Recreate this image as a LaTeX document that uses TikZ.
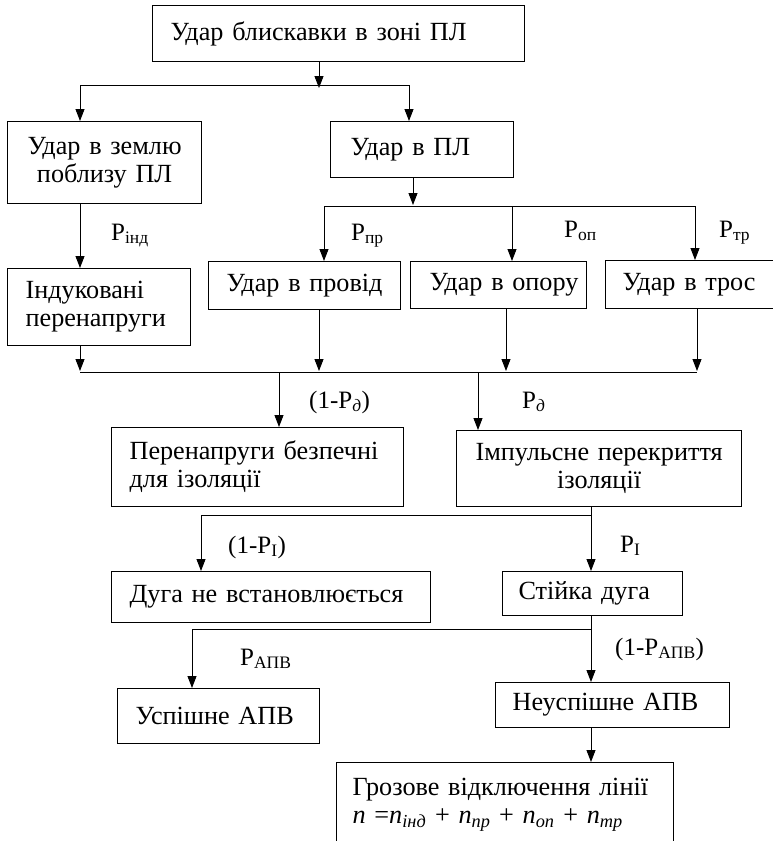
\documentclass[tikz,border=0pt]{standalone}
\usepackage{fontspec}
\setmainfont{Liberation Serif}
\usetikzlibrary{arrows.meta,calc}

\begin{document}
\begin{tikzpicture}[x=1pt,y=-1pt,
  every node/.style={font=\fontsize{25}{28}\selectfont},
  box/.style={draw, line width=1.2pt, anchor=north west, inner sep=0pt, align=left, font=\fontsize{26.2}{28}\selectfont},
  cbox/.style={draw, line width=1.2pt, anchor=north west, inner sep=0pt, align=center, font=\fontsize{26.2}{28}\selectfont},
  pad/.style={execute at begin node={\leftskip=#1}},
  arr/.style={line width=0.9pt, -{Triangle[length=12pt,width=9pt]}},
  ln/.style={line width=0.9pt},
  lbl/.style={anchor=base west, inner sep=0pt}]

\useasboundingbox (0,0) rectangle (772,841);

% boxes
\node[box, pad=18pt, minimum width=372pt, minimum height=56pt, text width=372pt] (top) at (152,5) {Удар блискавки в зоні ПЛ};
\node[cbox, minimum width=194pt, minimum height=82pt, text width=194pt] (ground) at (7,121) {Удар в землю\\поблизу ПЛ};
\node[box, pad=20pt, minimum width=183pt, minimum height=56pt, text width=183pt] (pl) at (330,121) {Удар в ПЛ};
\node[box, pad=18pt, minimum width=183pt, minimum height=77pt, text width=183pt] (ind) at (7,268) {Індуковані\\перенапруги};
\node[box, pad=18pt, minimum width=192pt, minimum height=48pt, text width=192pt] (prov) at (208,261) {Удар в провід};
\node[box, pad=19pt, minimum width=176pt, minimum height=47pt, text width=176pt] (opora) at (410,261) {Удар в опору};
\node[box, pad=17pt, minimum width=168pt, minimum height=48pt, text width=168pt] (tros) at (605,260) {Удар в трос};
\node[box, pad=18pt, minimum width=292pt, minimum height=79pt, text width=292pt] (safe) at (111,427) {Перенапруги безпечні\\для ізоляції};
\node[cbox, minimum width=285pt, minimum height=76pt, text width=285pt] (imp) at (456,430) {Імпульсне перекриття\\ізоляції};
\node[box, pad=18pt, minimum width=319pt, minimum height=51pt, text width=319pt] (arc) at (111,571) {Дуга не встановлюється};
\node[box, pad=16pt, minimum width=180pt, minimum height=44pt, text width=180pt] (stable) at (502,571) {Стійка дуга};
\node[box, pad=18pt, minimum width=202pt, minimum height=55pt, text width=202pt] (succ) at (117,688) {Успішне АПВ};
\node[box, pad=17pt, minimum width=234pt, minimum height=45pt, text width=234pt] (fail) at (495,682) {Неуспішне АПВ};
\node[box, pad=16pt, minimum width=337pt, minimum height=84pt, text width=337pt] (storm) at (336,762) {Грозове відключення лінії\\\textit{n} =\textit{n}\textsubscript{\textit{інд}} + \textit{n}\textsubscript{\textit{пр}} + \textit{n}\textsubscript{\textit{оп}} + \textit{n}\textsubscript{\textit{тр}}};

% junction coordinates
\coordinate (j0) at (319,88);
\coordinate (b1l) at (80,85);
\coordinate (b1r) at (409,85);
\coordinate (j1) at (413,205);
\coordinate (b2l) at (324,206);
\coordinate (b2m) at (512,206);
\coordinate (b2r) at (695,206);
\coordinate (c1) at (80,0);
\coordinate (b3a) at (80,372);
\coordinate (b3b) at (319,372);
\coordinate (b3c) at (506,372);
\coordinate (b3d) at (697,372);
\coordinate (d1) at (279,372);
\coordinate (d2) at (478,372);
\coordinate (b4r) at (591,515);
\coordinate (b4l) at (201,515);
\coordinate (b5r) at (591,629);
\coordinate (b5l) at (192,629);

% connectors
\draw[arr] (top.south -| j0) -- (j0);
\draw[ln] (b1l) -- (b1r);
\draw[arr] (b1l) -- (b1l |- ground.north);
\draw[arr] (b1r) -- (b1r |- pl.north);

\draw[arr] (pl.south -| j1) -- (j1);
\draw[ln] (b2l) -- (b2r);
\draw[arr] (b2l) -- (b2l |- prov.north);
\draw[arr] (b2m) -- (b2m |- opora.north);
\draw[arr] (b2r) -- (b2r |- tros.north);

\draw[arr] (ground.south -| c1) -- (ind.north -| c1);

\draw[arr] (ind.south -| b3a) -- ($(b3a)+(0,-1)$);
\draw[arr] (prov.south -| b3b) -- ($(b3b)+(0,-1)$);
\draw[arr] (opora.south -| b3c) -- ($(b3c)+(0,-1)$);
\draw[arr] (tros.south -| b3d) -- ($(b3d)+(0,-1)$);
\draw[ln] (b3a) -- (b3d);
\draw[arr] (d1) -- (d1 |- safe.north);
\draw[arr] (d2) -- (d2 |- imp.north);

\draw[ln] (imp.south -| b4r) -- (b4r) -- (b4l);
\draw[arr] (b4l) -- (b4l |- arc.north);
\draw[arr] (b4r) -- (b4r |- stable.north);

\draw[ln] (stable.south -| b5r) -- (b5r) -- (b5l);
\draw[arr] (b5l) -- (b5l |- succ.north);
\draw[arr] (b5r) -- (b5r |- fail.north);

\draw[arr] (fail.south -| b5r) -- (storm.north -| b5r);

% labels
\node[lbl] (lind) at (111,240) {P\textsubscript{інд}};
\node[lbl] (lpr) at (351,240) {P\textsubscript{пр}};
\node[lbl] (lop) at (564,237) {P\textsubscript{оп}};
\node[lbl] (ltr) at (719,237) {P\textsubscript{тр}};
\node[lbl] (lnd) at (309,408) {(1-P\textsubscript{\textit{д}})};
\node[lbl] (ld) at (522,408) {P\textsubscript{\textit{д}}};
\node[lbl] (lni) at (228,553) {(1-P\textsubscript{I})};
\node[lbl] (li) at (620,552) {P\textsubscript{I}};
\node[lbl] (lapv) at (240,665) {P\textsubscript{АПВ}};
\node[lbl] (lnapv) at (615,655) {(1-P\textsubscript{АПВ})};
\end{tikzpicture}
\end{document}
